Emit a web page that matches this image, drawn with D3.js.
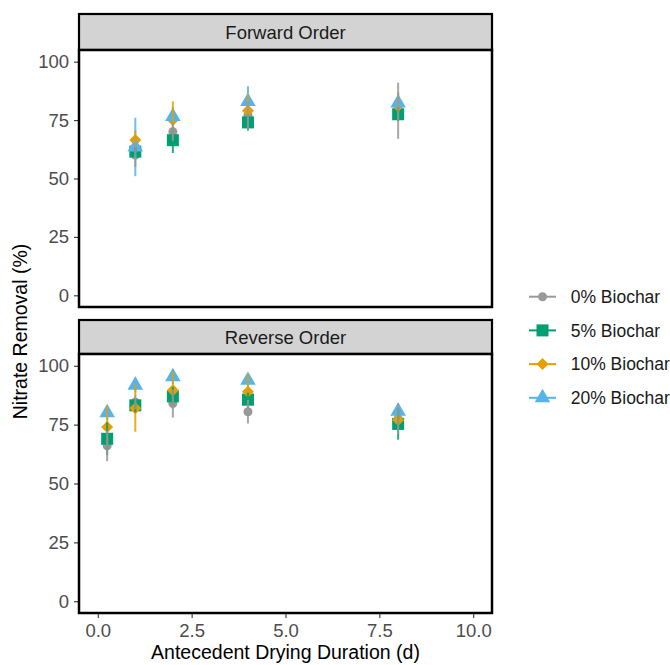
<!DOCTYPE html>
<html lang="en">
<head>
<meta charset="UTF-8">
<title>Nitrate Removal</title>
<script src="https://d3js.org/d3.v7.min.js"></script>
<style>
  body { margin: 0; background: #fff; font-family: 'Liberation Sans', Arial, sans-serif; }
</style>
</head>
<body>
<svg id="chart" width="670" height="665"></svg>
<script>
// categories
const series = ["0% Biochar", "5% Biochar", "10% Biochar", "20% Biochar"];
const panels = ["Forward Order", "Reverse Order"];
const forwardDays = [1, 2, 4, 8];
const reverseDays = [0.25, 1, 2, 4, 8];

// means (%) - forward order
const fwdMean0 = [60, 70, 77, 79];
const fwdMean5 = [61.5, 66.4, 74, 77.5];
const fwdMean10 = [66.5, 75, 79, 81];
const fwdMean20 = [63.5, 76.5, 83, 82.3];
// error (+/-) - forward order
const fwdErr0 = [5, 4, 6, 12];
const fwdErr5 = [2, 5.5, 3.5, 3];
const fwdErr10 = [4, 8, 7, 6];
const fwdErr20 = [12.5, 4, 6.5, 4];

// means (%) - reverse order
const revMean0 = [66, 84.5, 84, 80.5, 77.5];
const revMean5 = [69, 83.2, 87, 85.6, 75.3];
const revMean10 = [74, 82, 89.6, 89, 77];
const revMean20 = [80, 91.7, 95.3, 93.8, 80.7];
// error (+/-) - reverse order
const revErr0 = [6.5, 3, 6, 5, 6.5];
const revErr5 = [7, 3, 4, 3, 6.7];
const revErr10 = [9, 10, 8, 7.5, 4];
const revErr20 = [3, 3, 3, 3, 3];

const yTicks = [0, 25, 50, 75, 100];
const xTicks = [0, 2.5, 5, 7.5, 10];

const colors = ["#999999", "#009E73", "#E69F00", "#56B4E9"];

document.addEventListener("DOMContentLoaded", function() {
    const svg = d3.select("#chart");

    const fwdMeans = [fwdMean0, fwdMean5, fwdMean10, fwdMean20];
    const fwdErrs = [fwdErr0, fwdErr5, fwdErr10, fwdErr20];
    const revMeans = [revMean0, revMean5, revMean10, revMean20];
    const revErrs = [revErr0, revErr5, revErr10, revErr20];

    function rows(days, means, errs) {
        let out = [];
        series.forEach((s, si) => {
            days.forEach((d, di) => {
                out.push({ s: si, day: d, mean: means[si][di], err: errs[si][di] });
            });
        });
        return out;
    }

    const panelData = [
        { title: panels[0], top: 50, bottom: 307, strip: 14, rows: rows(forwardDays, fwdMeans, fwdErrs), xaxis: false },
        { title: panels[1], top: 354, bottom: 613, strip: 320, rows: rows(reverseDays, revMeans, revErrs), xaxis: true }
    ];

    const left = 79, right = 492;
    const x = d3.scaleLinear().domain([-0.5, 10.5]).range([left, right]);

    // point shapes
    const shapes = [
        d3.symbol().type(d3.symbolCircle).size(64),
        d3.symbol().type(d3.symbolSquare).size(144),
        d3.symbol().type(d3.symbolSquare).size(72),
        d3.symbol().type(d3.symbolTriangle).size(105)
    ];
    const rotate = [0, 0, 45, 0];

    panelData.forEach(p => {
        const y = d3.scaleLinear().domain([-5, 105]).range([p.bottom, p.top]);
        const g = svg.append("g");

        // strip
        g.append("rect")
            .attr("x", left).attr("y", p.strip)
            .attr("width", right - left).attr("height", p.top - p.strip)
            .attr("fill", "#D3D3D3").attr("stroke", "#000").attr("stroke-width", 2.2);
        g.append("text")
            .attr("x", (left + right) / 2).attr("y", (p.strip + p.top) / 2)
            .attr("dy", "0.36em").attr("text-anchor", "middle")
            .attr("font-size", 18.5).attr("fill", "#1A1A1A")
            .text(p.title);

        // panel
        g.append("rect")
            .attr("x", left).attr("y", p.top)
            .attr("width", right - left).attr("height", p.bottom - p.top)
            .attr("fill", "#fff");

        // y axis
        const ya = g.append("g")
            .attr("transform", `translate(${left},0)`)
            .call(d3.axisLeft(y).tickValues(yTicks).tickSize(5).tickPadding(5));
        ya.select(".domain").remove();
        ya.selectAll(".tick line").attr("stroke", "#333").attr("stroke-width", 1.1);
        ya.selectAll(".tick text").attr("fill", "#4D4D4D").attr("font-size", 18.5)
            .attr("font-family", "'Liberation Sans', Arial, sans-serif");

        if (p.xaxis) {
            const xa = g.append("g")
                .attr("transform", `translate(0,${p.bottom})`)
                .call(d3.axisBottom(x).tickValues(xTicks).tickSize(5).tickPadding(6)
                    .tickFormat(d3.format(".1f")));
            xa.select(".domain").remove();
            xa.selectAll(".tick line").attr("stroke", "#333").attr("stroke-width", 1.1);
            xa.selectAll(".tick text").attr("fill", "#4D4D4D").attr("font-size", 18.5)
                .attr("font-family", "'Liberation Sans', Arial, sans-serif");
        }

        // points
        series.forEach((s, si) => {
            g.selectAll(null)
                .data(p.rows.filter(r => r.s === si))
                .enter().append("path")
                .attr("d", shapes[si])
                .attr("transform", d => `translate(${x(d.day)},${y(d.mean)}) rotate(${rotate[si]})`)
                .attr("fill", colors[si]);
        });

        // error bars, drawn last series first
        [3, 2, 1, 0].forEach(si => {
            g.selectAll(null)
                .data(p.rows.filter(r => r.s === si))
                .enter().append("line")
                .attr("x1", d => x(d.day)).attr("x2", d => x(d.day))
                .attr("y1", d => y(d.mean - d.err)).attr("y2", d => y(d.mean + d.err))
                .attr("stroke", colors[si]).attr("stroke-width", 2)
                .attr("opacity", 0.85);
        });

        // panel border
        g.append("rect")
            .attr("x", left).attr("y", p.top)
            .attr("width", right - left).attr("height", p.bottom - p.top)
            .attr("fill", "none").attr("stroke", "#000").attr("stroke-width", 2.5);
    });

    // axis titles
    svg.append("text")
        .attr("x", (left + right) / 2).attr("y", 659)
        .attr("text-anchor", "middle").attr("font-size", 19.5).attr("fill", "#000")
        .text("Antecedent Drying Duration (d)");
    svg.append("text")
        .attr("transform", `translate(20,${(50 + 613) / 2}) rotate(-90)`)
        .attr("dy", "0.36em")
        .attr("text-anchor", "middle").attr("font-size", 19.5).attr("fill", "#000")
        .text("Nitrate Removal (%)");

    // legend
    const legend = svg.append("g");
    series.forEach((s, si) => {
        const ly = 296.7 + si * 33.7;
        legend.append("line")
            .attr("x1", 529).attr("x2", 556).attr("y1", ly).attr("y2", ly)
            .attr("stroke", colors[si]).attr("stroke-width", 2);
        legend.append("path")
            .attr("d", shapes[si])
            .attr("transform", `translate(542.5,${ly}) rotate(${rotate[si]})`)
            .attr("fill", colors[si]);
        legend.append("text")
            .attr("x", 570.7).attr("y", ly).attr("dy", "0.36em")
            .attr("font-size", 17.5).attr("fill", "#1A1A1A")
            .text(s);
    });
});
</script>
</body>
</html>
